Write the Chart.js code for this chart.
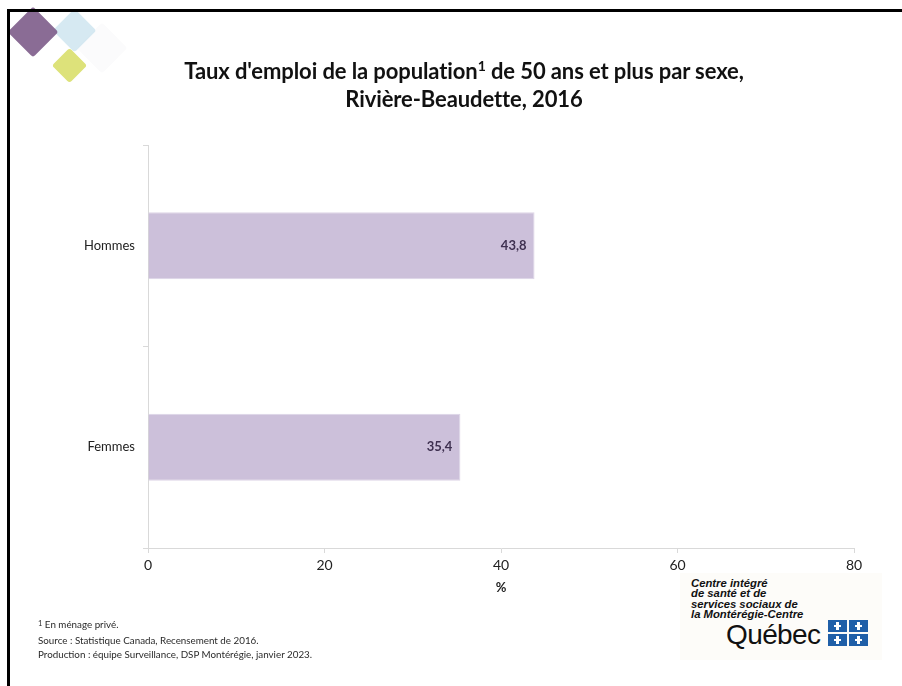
<!DOCTYPE html>
<html>
<head>
<meta charset="utf-8">
<script src="https://cdn.jsdelivr.net/npm/chart.js@4/dist/chart.umd.min.js"></script>
<style>
  body { margin: 0; background: #fff; font-family: Lato, "Open Sans", sans-serif; }
  #wrap { position: relative; width: 902px; height: 686px; overflow: hidden; }
  #chart { position: absolute; left: 0; top: 0; }
  .frame-top { position: absolute; left: 7px; top: 9px; width: 895px; height: 3px; background: #000; }
  .frame-left { position: absolute; left: 7px; top: 9px; width: 3px; height: 677px; background: #000; }
  .dia { position: absolute; transform: rotate(45deg); border-radius: 3px; }
  .title { position: absolute; left: 0; width: 928px; top: 57px; text-align: center;
           font-weight: bold; font-size: 22px; line-height: 28px; color: #111; letter-spacing: -0.1px; }
  .title sup { font-size: 14px; vertical-align: 8px; line-height: 0; }
  .notes { position: absolute; left: 38px; top: 617px; font-size: 9.8px; color: #2a2a2a; line-height: 14.5px; }
  .logo { position: absolute; left: 680px; top: 573px; width: 202px; height: 87px; background: #fdfcf9; }
  .logo .org { position: absolute; left: 11px; top: 5px; font-family: "Liberation Sans", Arial, sans-serif;
               font-style: italic; font-weight: bold; font-size: 11.3px; line-height: 10.3px; color: #111; }
  .logo .qc { position: absolute; left: 46px; top: 46px; font-family: "Liberation Sans", Arial, sans-serif;
              font-size: 28px; color: #111; letter-spacing: -0.6px; }
  .flag { position: absolute; width: 19px; height: 12px; background: #1f5fa8; }
  .flag i { position: absolute; left: 8px; top: 2px; width: 3px; height: 8px; background: #fff; }
  .flag b { position: absolute; left: 6px; top: 5px; width: 7px; height: 2px; background: #fff; }
</style>
</head>
<body>
<div id="wrap">
  <canvas id="chart" width="902" height="686"></canvas>

  <div class="dia" style="left:84px;top:30px;width:36px;height:36px;background:#fbfbfc;"></div>
  <div class="dia" style="left:59px;top:15px;width:31px;height:31px;background:rgba(200,226,238,0.75);"></div>
  <div class="dia" style="left:15px;top:14px;width:36px;height:36px;background:rgba(128,96,140,0.92);"></div>
  <div class="dia" style="left:57px;top:53px;width:25px;height:25px;background:#dde27a;"></div>
  <div class="frame-top"></div>
  <div class="frame-left"></div>

  <div class="title">Taux d'emploi de la population<sup>1</sup> de 50 ans et plus par sexe,<br>Rivière-Beaudette, 2016</div>

  <div class="notes">
    <div><span style="font-size:7.5px;vertical-align:2px">1</span> En ménage privé.</div>
    <div style="margin-top:1px">Source : Statistique Canada, Recensement de 2016.</div>
    <div>Production : équipe Surveillance, DSP Montérégie, janvier 2023.</div>
  </div>

  <div class="logo">
    <div class="org">Centre intégré<br>de santé et de<br>services sociaux de<br>la Montérégie-Centre</div>
    <div class="qc">Québec</div>
    <div class="flag" style="left:148px;top:47px"><i></i><b></b></div>
    <div class="flag" style="left:169px;top:47px"><i></i><b></b></div>
    <div class="flag" style="left:148px;top:61px"><i></i><b></b></div>
    <div class="flag" style="left:169px;top:61px"><i></i><b></b></div>
  </div>
</div>

<script>
const categories = ['Hommes', 'Femmes'];
const values = [43.8, 35.4];
const xTicks = [0, 20, 40, 60, 80];

const axisGrey = '#d9d9d9';
const fontFamily = 'Lato, "Open Sans", sans-serif';

// writes the value at the end of each bar, french decimal comma
const valueLabels = {
    id: 'valueLabels',
    afterDatasetsDraw(chart) {
        const ctx = chart.ctx;
        const meta = chart.getDatasetMeta(0);
        ctx.save();
        ctx.font = 'bold 13px ' + fontFamily;
        ctx.fillStyle = '#3f3151';
        ctx.textAlign = 'right';
        ctx.textBaseline = 'middle';
        meta.data.forEach((bar, i) => {
            ctx.fillText(values[i].toFixed(1).replace('.', ','), bar.x - 8, bar.y);
        });
        ctx.restore();
    }
};

new Chart(document.getElementById('chart'), {
    type: 'bar',
    data: {
        labels: categories,
        datasets: [{
            data: values,
            backgroundColor: '#ccc0da',
            borderColor: '#ddd5e7',
            borderWidth: 1,
            categoryPercentage: 1,
            barPercentage: 0.333
        }]
    },
    options: {
        indexAxis: 'y',
        responsive: false,
        animation: false,
        layout: { padding: { left: 0, right: 48, top: 145, bottom: 86 } },
        plugins: {
            legend: { display: false },
            tooltip: { enabled: false }
        },
        scales: {
            x: {
                min: 0,
                max: 80,
                afterBuildTicks: (scale) => { scale.ticks = xTicks.map(v => ({ value: v })); },
                afterFit: (scale) => { scale.height = 52; },
                grid: { drawOnChartArea: false, drawTicks: true, tickLength: 5, color: axisGrey },
                border: { color: axisGrey },
                ticks: { color: '#222', font: { family: fontFamily, size: 14 }, padding: 4 },
                title: { display: true, text: '%', color: '#222', font: { family: fontFamily, size: 13, weight: 'bold' }, padding: { top: 0 } }
            },
            y: {
                afterFit: (scale) => { scale.width = 148; },
                grid: { drawOnChartArea: false, drawTicks: true, tickLength: 5, color: axisGrey, offset: true },
                border: { color: axisGrey },
                ticks: { color: '#222', font: { family: fontFamily, size: 13 }, padding: 8 }
            }
        }
    },
    plugins: [valueLabels]
});
</script>
</body>
</html>
